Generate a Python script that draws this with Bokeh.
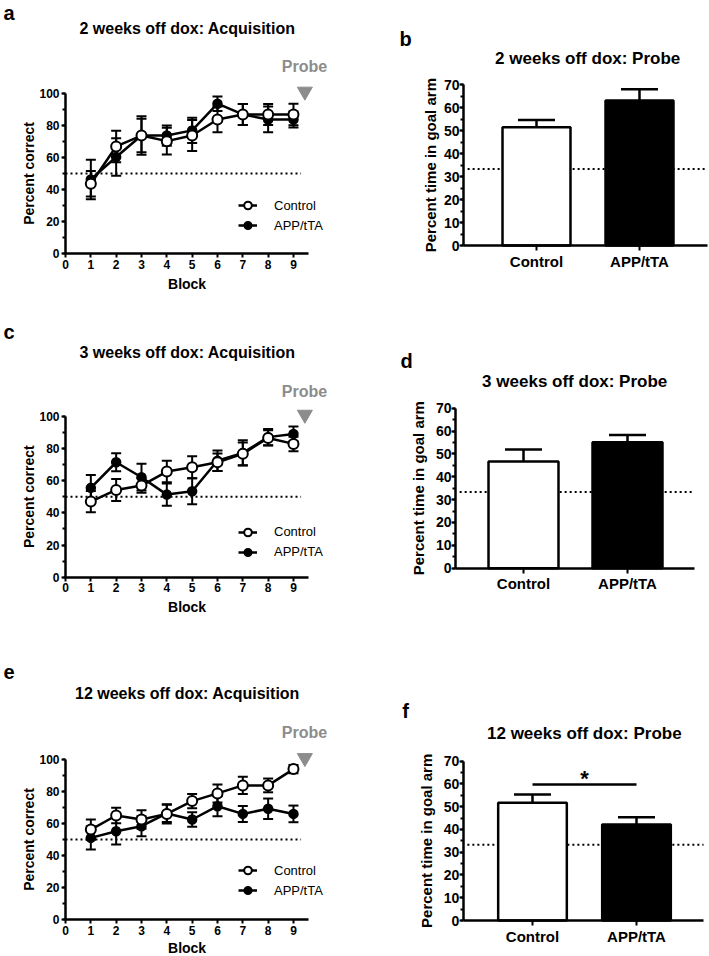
import math
import numpy as np
from bokeh.plotting import figure
from bokeh.models import (Range1d, Whisker, TeeHead, Label, Legend, LegendItem,
                          FixedTicker, SingleIntervalTicker, ColumnDataSource)
from bokeh.layouts import column, row
from bokeh.embed import file_html
from bokeh.resources import INLINE
from bokeh.core.properties import value

# ---------------- data ----------------
blocks = [1, 2, 3, 4, 5, 6, 7, 8, 9]
x_tick_labels = [0, 1, 2, 3, 4, 5, 6, 7, 8, 9]

# 2 weeks off dox: acquisition
a_ctrl = [43.6, 66.8, 73.6, 70.1, 73.6, 83.6, 86.7, 86.7, 86.7]
a_ctrl_sem = [8.0, 9.8, 10.4, 8.3, 9.7, 8.0, 6.5, 6.5, 6.7]
a_app = [46.3, 60.2, 73.6, 73.6, 76.8, 93.4, 86.7, 83.6, 83.6]
a_app_sem = [12.3, 11.7, 12.0, 6.3, 7.8, 4.5, 6.5, 8.0, 5.0]

# 3 weeks off dox: acquisition
c_ctrl = [47.0, 54.2, 56.9, 65.6, 68.3, 71.4, 76.6, 86.5, 82.8]
c_ctrl_sem = [6.6, 6.8, 4.5, 6.7, 6.9, 5.5, 7.0, 4.7, 4.5]
c_app = [55.5, 71.4, 62.1, 51.3, 53.4, 72.3, 77.2, 87.0, 89.0]
c_app_sem = [8.0, 5.6, 8.3, 6.9, 8.1, 6.4, 7.8, 5.0, 4.6]

# 12 weeks off dox: acquisition
e_ctrl = [56.2, 65.0, 62.5, 66.0, 74.0, 78.8, 83.8, 83.8, 94.0]
e_ctrl_sem = [6.3, 4.8, 5.8, 6.0, 4.5, 5.6, 5.4, 4.3, 2.6]
e_app = [51.0, 55.2, 58.3, 66.3, 62.5, 70.8, 66.0, 69.2, 66.0]
e_app_sem = [7.3, 8.3, 6.3, 5.4, 4.5, 6.2, 5.0, 6.4, 5.2]

# probe bar charts
groups = ["Control", "APP/tTA"]
b_means = [51.5, 63.2]
b_sem = [3.2, 4.8]
d_means = [46.7, 55.1]
d_sem = [5.2, 3.2]
f_means = [51.7, 42.2]
f_sem = [3.7, 3.2]

chance_acq = 50
chance_probe = 33.3
f_sig_y = 59.8

FONT = "Liberation Sans"
GRAY = "#8c8c8c"


class Map:
    """Maps reference-picture pixels to data coordinates for one panel."""

    def __init__(self, left, top, width, height, x_at, x_ref, x_unit, y0_ref, y_scale):
        self.left, self.top, self.width, self.height = left, top, width, height
        self.x_at, self.x_ref, self.x_unit = x_at, x_ref, x_unit
        self.y0_ref, self.y_scale = y0_ref, y_scale

    def X(self, ref):
        return self.x_at + (ref - self.x_ref) / self.x_unit

    def Y(self, ref):
        return (self.y0_ref - ref) / self.y_scale

    def xr(self):
        return Range1d(self.X(self.left), self.X(self.left + self.width))

    def yr(self):
        return Range1d(self.Y(self.top + self.height), self.Y(self.top))


def style_axes(p, tick_size):
    for ax in (p.xaxis[0], p.yaxis[0]):
        ax.axis_line_width = 2.5
        ax.axis_line_color = "black"
        ax.major_tick_line_width = 2
        ax.minor_tick_line_width = 2
        ax.major_tick_line_color = "black"
        ax.minor_tick_line_color = "black"
        ax.major_tick_in = 0
        ax.major_tick_out = 4
        ax.minor_tick_in = 0
        ax.minor_tick_out = 3
        ax.major_label_text_font = FONT
        ax.major_label_text_font_style = "bold"
        ax.major_label_text_font_size = tick_size
        ax.major_label_text_color = "black"


def add_label(p, text, x, y, size, color="black", align="left", style="bold", angle=0.0):
    p.add_layout(Label(x=x, y=y, text=text, angle=angle,
                       text_font=FONT, text_font_style=style, text_font_size=size,
                       text_color=color, text_align=align, text_baseline="middle"))


def base_fig(m):
    p = figure(width=m.width, height=m.height, x_range=m.xr(), y_range=m.yr(),
               output_backend="svg", toolbar_location=None, title=None,
               min_border_left=0, min_border_right=0,
               min_border_top=0, min_border_bottom=0)
    p.xgrid.visible = False
    p.ygrid.visible = False
    p.outline_line_color = None
    p.background_fill_color = "white"
    p.border_fill_color = "white"
    p.xaxis.fixed_location = 0
    return p


def acq_panel(letter, title, ctrl, ctrl_sem, app, app_sem, m,
              title_mid, letter_mid, probe_mid, legend_bottom, block_mid):
    p = base_fig(m)
    style_axes(p, "12px")
    p.yaxis.fixed_location = 0
    p.xaxis.ticker = FixedTicker(ticks=x_tick_labels, minor_ticks=[])
    p.xaxis.bounds = (0, 9.6)
    p.xaxis.major_label_standoff = 2
    p.yaxis.ticker = SingleIntervalTicker(interval=20, num_minor_ticks=2)
    p.yaxis.bounds = (0, 100)
    p.yaxis.major_label_standoff = 2

    # chance level
    p.line([0, blocks[-1] + 0.3], [chance_acq, chance_acq], line_dash="2 3",
           line_width=2, color="black")

    ctrl_line = p.line(blocks, ctrl, line_width=2.5, color="black")
    app_line = p.line(blocks, app, line_width=2.5, color="black")

    for mean, sem in ((ctrl, ctrl_sem), (app, app_sem)):
        mm = np.array(mean)
        ss = np.array(sem)
        src = ColumnDataSource(dict(x=blocks, lo=mm - ss, hi=mm + ss))
        p.add_layout(Whisker(source=src, base="x", lower="lo", upper="hi",
                             line_width=2, line_color="black",
                             upper_head=TeeHead(size=10, line_width=2, line_color="black"),
                             lower_head=TeeHead(size=10, line_width=2, line_color="black")))

    app_pts = p.scatter(blocks, app, marker="circle", size=9,
                        fill_color="black", line_color="black", line_width=1.5)
    ctrl_pts = p.scatter(blocks, ctrl, marker="circle", size=10,
                         fill_color="white", line_color="black", line_width=2)

    legend = Legend(items=[LegendItem(label="Control", renderers=[ctrl_line, ctrl_pts]),
                           LegendItem(label="APP/tTA", renderers=[app_line, app_pts])],
                    location=(238 - m.left, m.top + m.height - legend_bottom),
                    padding=0, margin=0, spacing=0,
                    glyph_width=19, glyph_height=20, label_height=20,
                    label_standoff=17, border_line_color=None,
                    background_fill_alpha=0,
                    label_text_font=FONT, label_text_font_size="13px",
                    label_text_color="black")
    p.add_layout(legend)

    # probe marker
    p.scatter([blocks[-1] + 0.45], [101], marker="inverted_triangle", size=15,
              fill_color=GRAY, line_color=GRAY)
    add_label(p, "Probe", m.X(304), m.Y(probe_mid), "16px", color=GRAY, align="center")
    add_label(p, title, m.X(187), m.Y(title_mid), "16px", align="center")
    add_label(p, letter, m.X(3), m.Y(letter_mid), "20px")
    add_label(p, "Percent correct", m.X(28.5), 50, "14px", align="center",
              angle=math.pi / 2)
    add_label(p, "Block", 4.8, m.Y(block_mid), "14px", align="center")
    return p


def probe_panel(letter, title, means, sem, m, axis_x, axis_end, bar_w,
                ylabel_x, letter_x, letter_mid, title_x, title_mid, sig=False):
    p = base_fig(m)
    style_axes(p, "14px")
    xs = [i + 1 for i in range(len(groups))]
    p.yaxis.fixed_location = axis_x
    p.xaxis.bounds = (axis_x, axis_end)
    p.xaxis.ticker = FixedTicker(ticks=xs, minor_ticks=[])
    p.xaxis.major_label_overrides = {x: g for x, g in zip(xs, groups)}
    p.xaxis.major_label_text_font_size = "15px"
    p.xaxis.major_tick_out = 5
    p.xaxis.major_label_standoff = 2
    p.yaxis.ticker = SingleIntervalTicker(interval=10, num_minor_ticks=2)
    p.yaxis.bounds = (0, 70)
    p.yaxis.major_label_standoff = 0

    # chance level (drawn under the bars)
    p.line([axis_x + 0.04, axis_end], [chance_probe, chance_probe], line_dash="2 3",
           line_width=2, color="black")

    mm = np.array(means)
    ss = np.array(sem)
    src = ColumnDataSource(dict(x=xs, lo=mm, hi=mm + ss))
    p.add_layout(Whisker(source=src, base="x", lower="lo", upper="hi",
                         line_width=2.5, line_color="black", lower_head=None,
                         upper_head=TeeHead(size=37, line_width=2.5, line_color="black")))
    p.vbar(x=xs, top=means, bottom=0, width=bar_w,
           fill_color=["white", "black"], line_color="black", line_width=2.5)

    if sig:
        p.line(xs, [f_sig_y, f_sig_y], line_width=2.5, color="black")
        p.text(x=[np.mean(xs)], y=[m.Y(777.8)], text=["*"], text_align="center",
               text_baseline="middle", text_font=value(FONT),
               text_font_style="bold", text_font_size="22px", text_color="black")

    add_label(p, title, m.X(title_x), m.Y(title_mid), "17px", align="center")
    add_label(p, letter, m.X(letter_x), m.Y(letter_mid), "20px")
    add_label(p, "Percent time in goal arm", m.X(ylabel_x), 35, "15px", align="center",
              angle=math.pi / 2)
    return p


# ---- left column (acquisition) ----
ma = Map(0, 0, 358, 318, 0, 65, 25.33, 253.3, 1.607)
pa = acq_panel("a", "2 weeks off dox: Acquisition", a_ctrl, a_ctrl_sem, a_app, a_app_sem,
               ma, 27.5, 12, 65.5, 235, 283.3)
mc = Map(0, 318, 358, 310, 0, 65, 25.33, 576.7, 1.61)
pc = acq_panel("c", "3 weeks off dox: Acquisition", c_ctrl, c_ctrl_sem, c_app, c_app_sem,
               mc, 351.7, 331.2, 390.5, 561.7, 606.7)
me = Map(0, 628, 358, 327, 0, 65, 25.33, 919.0, 1.6)
pe = acq_panel("e", "12 weeks off dox: Acquisition", e_ctrl, e_ctrl_sem, e_app, e_app_sem,
               me, 692.5, 671.2, 732.2, 900, 947.5)

# ---- right column (probe) ----
mb = Map(358, 0, 350, 318, 1, 536, 103, 245, 2.296)
pb = probe_panel("b", "2 weeks off dox: Probe", b_means, b_sem, mb,
                 mb.X(463), mb.X(707), 0.66, 429.7, 399, 38.3, 587.2, 57.5)
md = Map(358, 318, 350, 310, 1, 523, 104, 567.7, 2.286)
pd = probe_panel("d", "3 weeks off dox: Probe", d_means, d_sem, md,
                 md.X(455), md.X(694), 0.673, 417.5, 400, 360.8, 574.2, 380.8)
mf = Map(358, 628, 350, 327, 1, 532, 104, 920, 2.276)
pf = probe_panel("f", "12 weeks off dox: Probe", f_means, f_sem, mf,
                 mf.X(462.7), mf.X(703), 0.66, 425.5, 401.7, 710, 583.8, 733,
                 sig=True)

layout = column(row(pa, pb), row(pc, pd), row(pe, pf))

with open("out.html", "w") as fh:
    fh.write(file_html(layout, INLINE))
